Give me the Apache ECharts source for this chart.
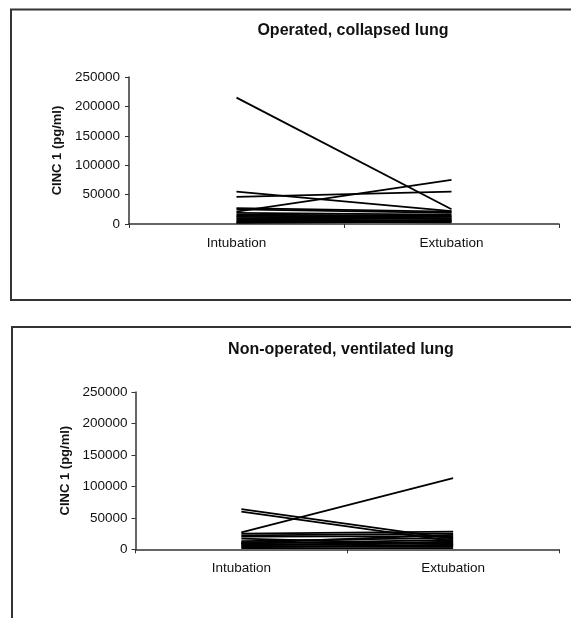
<!DOCTYPE html>
<html>
<head>
<meta charset="utf-8">
<script src="https://cdn.jsdelivr.net/npm/echarts@6/dist/echarts.min.js"></script>
<style>
html,body{margin:0;padding:0;background:#fff;}
#c{width:571px;height:618px;}
</style>
</head>
<body>
<div id="c"></div>
<script>
// ---- data ----
var categories = ['Intubation', 'Extubation'];
var topTitle = 'Operated, collapsed lung';
var bottomTitle = 'Non-operated, ventilated lung';
var yAxisName = 'CINC 1 (pg/ml)';
var yTickLabels = ['0', '50000', '100000', '150000', '200000', '250000'];

// Operated, collapsed lung: [intubation, extubation] per animal
var topLines = [
  [215000, 25000],
  [21000, 75000],
  [46000, 55000],
  [55000, 22000],
  [27000, 21000],
  [25000, 19000],
  [19000, 16000],
  [16000, 14000],
  [14000, 12000],
  [12000, 10000],
  [10000, 9000],
  [8000, 6000],
  [6000, 5000],
  [4000, 3000],
  [3000, 7000],
  [2000, 4000]
];
// Non-operated, ventilated lung
var bottomLines = [
  [27000, 113000],
  [64000, 17000],
  [60000, 13000],
  [25000, 28000],
  [22000, 25000],
  [20000, 21000],
  [17000, 8000],
  [13000, 18000],
  [11000, 10000],
  [9000, 15000],
  [8000, 6000],
  [6000, 12000],
  [5000, 4000],
  [3000, 7000],
  [2000, 2000],
  [10000, 23000]
];

// ---- chart ----
var FONT = '"Liberation Sans", Arial, sans-serif';
var TXT = '#111';
var AX = '#333';

function makeX(idx) {
  return {
    type: 'category', gridIndex: idx, data: categories, boundaryGap: true,
    axisLine: {show: true, lineStyle: {color: AX, width: 1.5}},
    axisTick: {show: true, alignWithLabel: false, length: 4, lineStyle: {color: AX}},
    axisLabel: {color: TXT, fontFamily: FONT, fontSize: 13.5, margin: 12},
    splitLine: {show: false}
  };
}
function makeY(idx, nameGap, labelMargin) {
  return {
    type: 'value', gridIndex: idx, min: 0, max: 250000, interval: 50000,
    name: yAxisName, nameLocation: 'middle', nameRotate: 90, nameGap: nameGap,
    nameTextStyle: {color: TXT, fontFamily: FONT, fontSize: 13, fontWeight: 'bold'},
    axisLine: {show: true, lineStyle: {color: AX, width: 1.5}},
    axisTick: {show: true, length: 4, lineStyle: {color: AX}},
    axisLabel: {color: TXT, fontFamily: FONT, fontSize: 13.5, margin: labelMargin,
      formatter: function (v) { return yTickLabels[Math.round(v / 50000)]; }},
    splitLine: {show: false}
  };
}
function makeSeries(lines, idx) {
  return lines.map(function (pair) {
    return {
      type: 'line', xAxisIndex: idx, yAxisIndex: idx, data: pair,
      symbol: 'none', silent: true, animation: false,
      lineStyle: {color: '#000', width: 1.8}
    };
  });
}

var chart = echarts.init(document.getElementById('c'), null, {renderer: 'canvas'});
chart.setOption({
  animation: false,
  backgroundColor: '#fff',
  grid: [
    {left: 129, right: 12, top: 77, height: 147},
    {left: 135.5, right: 12, top: 392, height: 157.3}
  ],
  xAxis: [makeX(0), makeX(1)],
  yAxis: [makeY(0, 60, 9), makeY(1, 63, 8)],
  series: makeSeries(topLines, 0).concat(makeSeries(bottomLines, 1)),
  graphic: [
    {type: 'rect', shape: {x: 11, y: 9.5, width: 620, height: 290.5},
      style: {fill: 'none', stroke: '#333', lineWidth: 2}, silent: true, z: 0},
    {type: 'rect', shape: {x: 12, y: 327, width: 620, height: 400},
      style: {fill: 'none', stroke: '#333', lineWidth: 2}, silent: true, z: 0},
    {type: 'text', x: 353, y: 31, silent: true,
      style: {text: topTitle, fill: TXT, font: 'bold 16px ' + FONT, align: 'center', verticalAlign: 'middle'}},
    {type: 'text', x: 341, y: 350, silent: true,
      style: {text: bottomTitle, fill: TXT, font: 'bold 16px ' + FONT, align: 'center', verticalAlign: 'middle'}}
  ]
});
</script>
</body>
</html>
